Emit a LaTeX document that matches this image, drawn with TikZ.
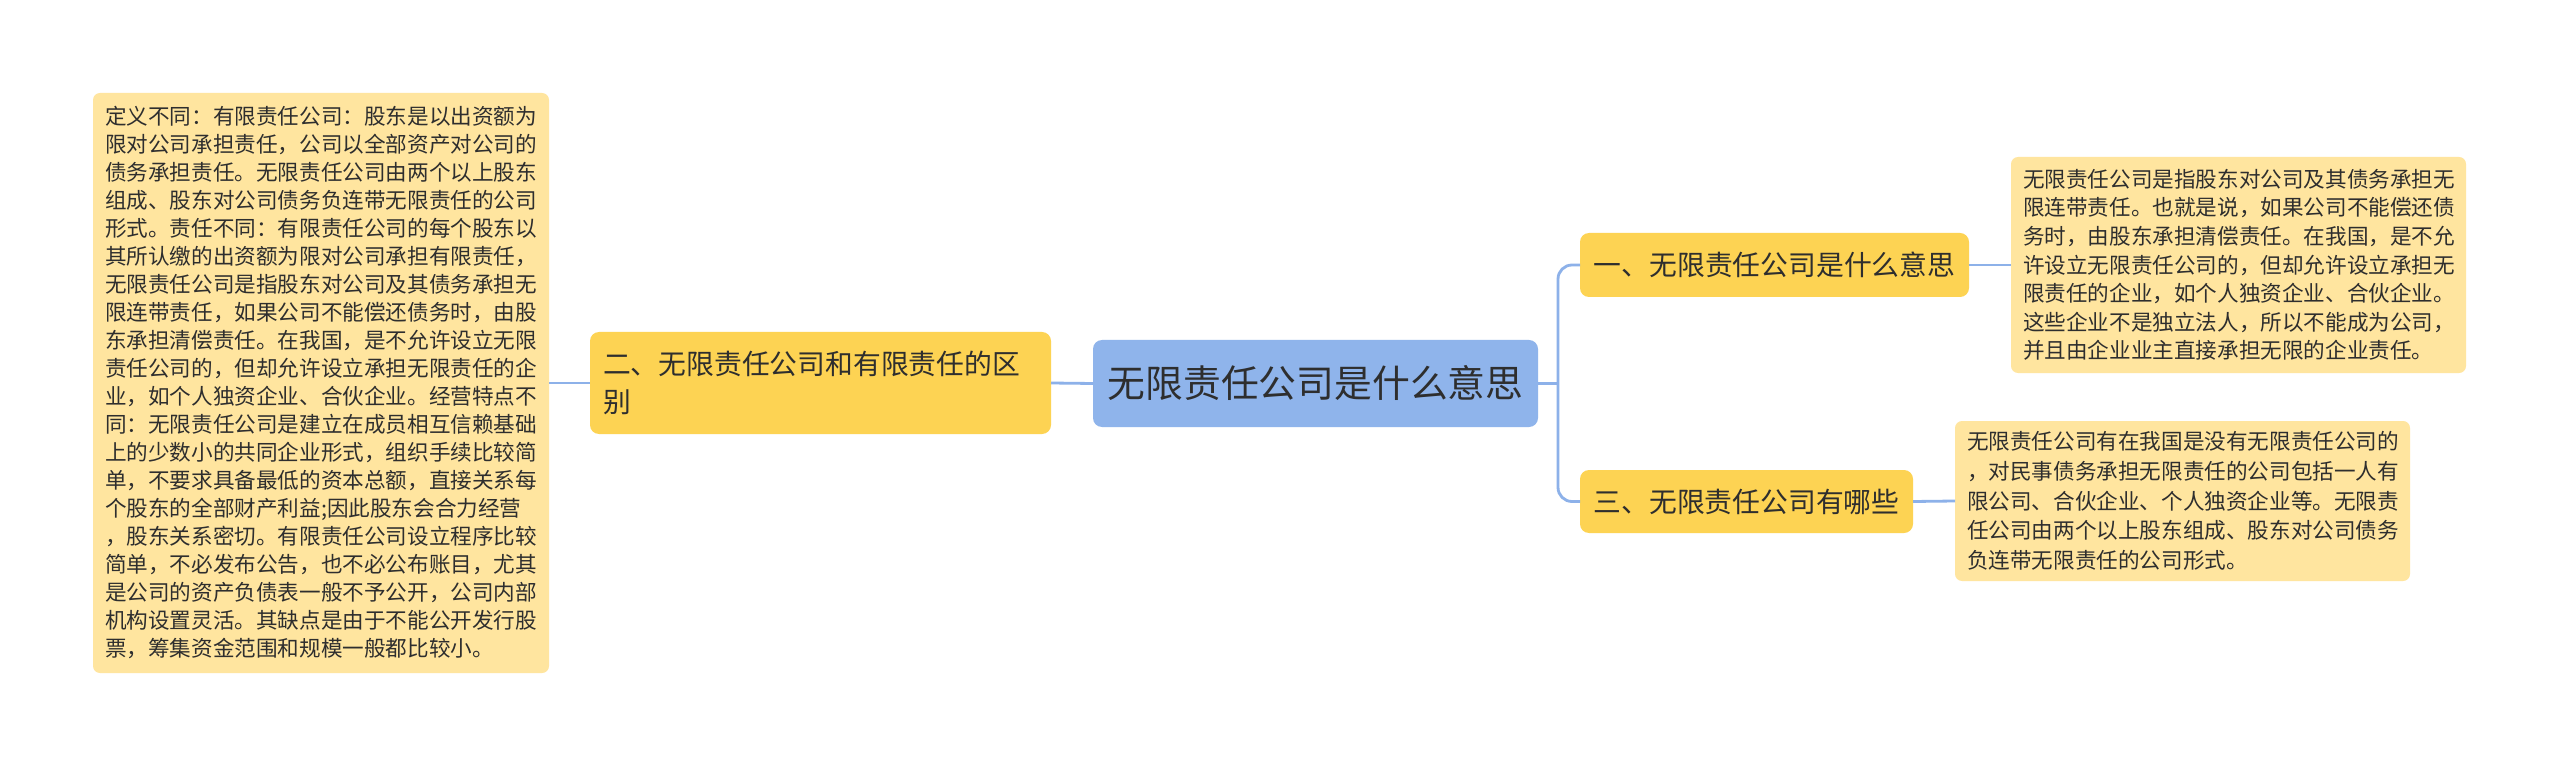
\documentclass[tikz,border=0pt]{standalone}
\usepackage{fontspec}
\newfontfamily\cjk{Noto Sans CJK SC}
\definecolor{linkblue}{HTML}{8DB1E9}
\definecolor{rootblue}{HTML}{8FB4EB}
\definecolor{topicyellow}{HTML}{FDD353}
\definecolor{noteyellow}{HTML}{FFE59F}
\definecolor{txt}{HTML}{2E2E2E}
\begin{document}
\begin{tikzpicture}[x=1pt,y=-1pt,
  every node/.style={inner sep=0pt, outer sep=0pt, text=txt},
  rootbox/.style={fill=rootblue, rounded corners=9pt, minimum width=445pt, minimum height=87pt,
    font={\cjk\fontsize{37.8pt}{44pt}\selectfont}},
  topicbox/.style={fill=topicyellow, rounded corners=9pt, minimum height=64pt,
    font={\cjk\fontsize{27.8pt}{38pt}\selectfont}},
  notebox/.style={fill=noteyellow, rounded corners=7pt, minimum width=456pt, align=left,
    text width=432pt, inner xsep=12pt},
  notefont/.style={font={\cjk\fontsize{21.6pt}{28pt}\selectfont}},
  conn/.style={draw=linkblue, line width=2.8pt}
]
\useasboundingbox (0,0) rectangle (2560,767);
\fill[white] (0,0) rectangle (2560,767);

\node[rootbox] (root) at (1315.5,383.5) {无限责任公司是什么意思};

\node[topicbox, minimum width=461pt, minimum height=102pt, text width=435pt, inner xsep=13pt, align=left]
  (n2) at (820.5,383) {二、无限责任公司和有限责任的区\\别};

\node[topicbox, minimum width=389pt] (n1) at (1774.5,265) {一、无限责任公司是什么意思};
\node[topicbox, minimum width=333pt, minimum height=63pt] (n3) at (1746.5,501.5) {三、无限责任公司有哪些};

\node[notebox, notefont, minimum height=580pt] (leftnote) at (321,383) {%
定义不同：有限责任公司：股东是以出资额为\\
限对公司承担责任，公司以全部资产对公司的\\
债务承担责任。无限责任公司由两个以上股东\\
组成、股东对公司债务负连带无限责任的公司\\
形式。责任不同：有限责任公司的每个股东以\\
其所认缴的出资额为限对公司承担有限责任，\\
无限责任公司是指股东对公司及其债务承担无\\
限连带责任，如果公司不能偿还债务时，由股\\
东承担清偿责任。在我国，是不允许设立无限\\
责任公司的，但却允许设立承担无限责任的企\\
业，如个人独资企业、合伙企业。经营特点不\\
同：无限责任公司是建立在成员相互信赖基础\\
上的少数小的共同企业形式，组织手续比较简\\
单，不要求具备最低的资本总额，直接关系每\\
个股东的全部财产利益;因此股东会合力经营\\
，股东关系密切。有限责任公司设立程序比较\\
简单，不必发布公告，也不必公布账目，尤其\\
是公司的资产负债表一般不予公开，公司内部\\
机构设置灵活。其缺点是由于不能公开发行股\\
票，筹集资金范围和规模一般都比较小。};

\node[notebox, font={\cjk\fontsize{21.6pt}{28.6pt}\selectfont}, minimum height=216pt, minimum width=455pt, text width=431pt] (note1) at (2238.5,265) {%
无限责任公司是指股东对公司及其债务承担无\\
限连带责任。也就是说，如果公司不能偿还债\\
务时，由股东承担清偿责任。在我国，是不允\\
许设立无限责任公司的，但却允许设立承担无\\
限责任的企业，如个人独资企业、合伙企业。\\
这些企业不是独立法人，所以不能成为公司，\\
并且由企业业主直接承担无限的企业责任。};

\node[notebox, font={\cjk\fontsize{21.6pt}{29.6pt}\selectfont}, minimum height=160pt, minimum width=455pt, text width=431pt] (note3) at (2182.5,501) {%
无限责任公司有在我国是没有无限责任公司的\\
，对民事债务承担无限责任的公司包括一人有\\
限公司、合伙企业、个人独资企业等。无限责\\
任公司由两个以上股东组成、股东对公司债务\\
负连带无限责任的公司形式。};

\coordinate (spine) at ([xshift=20pt]root.east);
\draw[conn] (leftnote.east) -- (n2.west);
\draw[conn] (n2.east) -- (root.west);
\draw[conn] (root.east) -- (spine);
\draw[conn, rounded corners=14pt] (n1.west) -| (spine) |- (n3.west);
\draw[conn] (n1.east) -- (note1.west);
\draw[conn] (n3.east) -- (note3.west);
\end{tikzpicture}
\end{document}
